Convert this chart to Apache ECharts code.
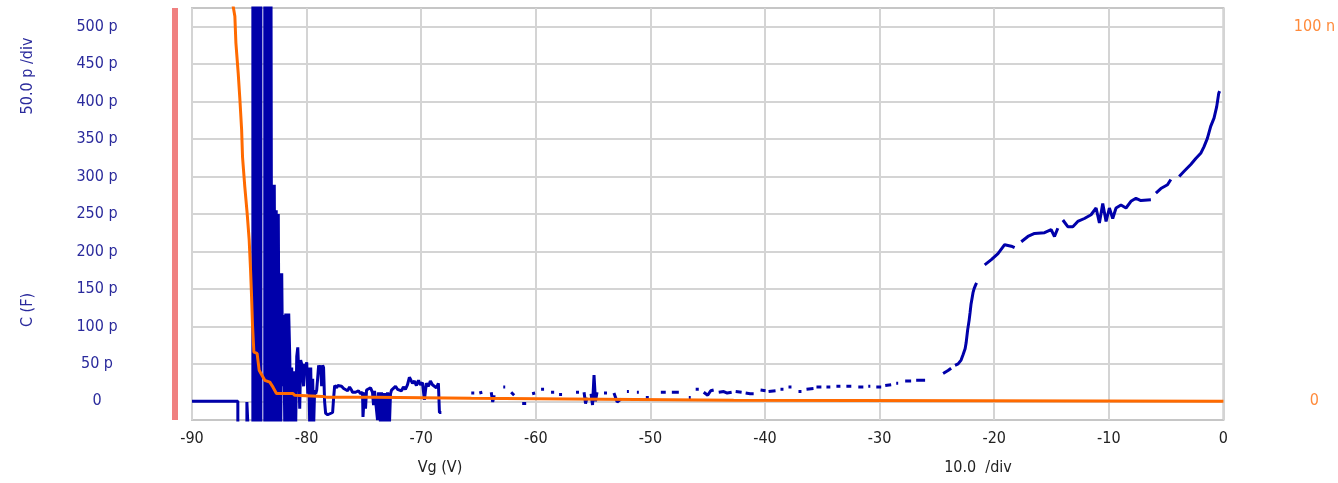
<!DOCTYPE html>
<html>
<head>
<meta charset="utf-8">
<script src="https://cdn.jsdelivr.net/npm/echarts@6/dist/echarts.min.js"></script>
<style>
html,body{margin:0;padding:0;background:#fff;}
#chart{width:1338px;height:483px;}
</style>
</head>
<body>
<div id="chart"></div>
<script>
// ---- Capacitance C (pF) vs Vg (V); null = gap in the trace ----
const capVg = [
-90,-86.0,-86.0,-85.21,-85.21,-85.10,-85.04,-84.69,
-84.69,-84.60,-84.52,-84.43,-84.34,-84.25,-84.17,-84.08,-83.99,-83.99,-83.65,
-83.65,-83.56,-83.47,-83.38,-83.30,-83.21,-83.12,-83.04,
-82.95,-82.90,-82.82,-82.73,-82.65,-82.56,-82.47,-82.38,-82.34,-82.25,-82.17,-82.08,-82.00,
-81.91,-81.82,-81.73,-81.65,-81.56,-81.47,-81.38,-81.30,-81.21,-81.12,-81.03,
-80.95,-80.86,-80.77,-80.69,-80.60,-80.52,-80.43,-80.34,-80.26,-80.17,-80.08,
-79.99,-79.90,-79.82,-79.73,-79.64,-79.56,-79.47,-79.38,-79.30,-79.21,-79.12,-79.04,
-78.95,-78.86,-78.78,-78.69,-78.60,-78.52,-78.43,-78.34,-78.16,-77.99,-77.73,-77.64,-77.55,
-77.38,-77.29,-77.12,-76.95,-76.77,-76.60,-76.42,-76.25,-76.08,-75.99,-75.73,-75.47,-75.30,-75.12,
-75.08,-74.95,-74.86,-74.77,-74.60,-74.42,-74.25,-74.16,-74.07,-73.90,-73.81,-73.72,-73.55,-73.46,
-73.29,-73.20,-73.03,-72.94,-72.77,-72.68,-72.59,-72.42,-72.24,-72.07,-71.90,-71.72,-71.55,-71.38,
-71.20,-71.03,-70.89,-70.76,-70.59,-70.42,-70.24,-70.07,-69.89,-69.72,-69.55,-69.37,-69.20,-69.02,
-68.85,-68.68,-68.50,-68.41,-68.24,-68.24,
-65.63,-65.37,-65.37,
-64.93,-64.67,-64.67,
-63.89,-63.76,-63.63,-63.63,
-62.84,-62.67,-62.67,
-62.15,-61.89,-61.89,
-61.19,-60.84,-60.84,
-60.32,-60.06,-60.06,
-59.54,-59.28,-59.28,
-58.67,-58.40,-58.40,
-57.97,-57.71,-57.71,
-56.49,-56.23,-56.23,
-55.79,-55.66,-55.53,-55.53,
-55.18,-55.05,-54.92,-54.79,-54.66,-54.66,
-54.05,-53.79,-53.79,
-53.18,-52.90,-52.57,-52.57,
-52.05,-51.88,-51.88,
-51.18,-51.01,-51.01,
-50.40,-50.14,-50.14,
-49.09,-48.66,-48.66,
-48.13,-47.52,-47.52,
-46.65,-46.48,-46.48,
-46.05,-45.78,-45.78,
-45.35,-45.00,-44.74,-44.48,-44.48,
-44.04,-43.60,-43.30,-42.91,-42.91,
-42.56,-42.04,-42.04,
-41.69,-41.30,-40.99,-40.99,
-40.39,-39.95,-39.95,
-39.69,-39.08,-39.08,
-38.65,-38.39,-38.39,
-37.95,-37.69,-37.69,
-37.08,-36.82,-36.82,
-36.38,-35.77,-35.77,
-35.51,-35.08,-35.08,
-34.64,-34.30,-34.30,
-33.77,-33.42,-33.42,
-32.90,-32.47,-32.47,
-31.86,-31.42,-31.42,
-30.99,-30.81,-30.81,
-30.29,-29.86,-29.86,
-29.51,-28.99,-28.99,
-28.55,-28.38,-28.38,
-27.77,-27.25,-27.25,
-26.81,-26.03,-26.03,
-24.46,-24.03,-23.76,-23.76,
-23.42,-23.15,-22.89,-22.72,-22.54,-22.45,-22.32,-22.19,-22.11,-22.02,-21.94,-21.85,-21.76,-21.63,-21.54,-21.54,
-20.83,-20.25,-19.67,-19.09,-18.51,-18.22,-18.22,
-17.64,-17.06,-16.48,-15.61,-15.03,-14.74,-14.45,-14.45,
-14.01,-13.58,-13.14,-12.71,-12.13,-11.55,-11.11,-10.82,-10.53,-10.24,-9.95,-9.66,-9.37,-8.94,-8.50,-8.07,-7.63,-7.20,-6.33,-6.33,
-5.89,-5.46,-4.88,-4.59,-4.59,
-3.86,-3.43,-2.85,-2.41,-1.98,-1.69,-1.40,-1.11,-0.82,-0.59,-0.41,-0.33
];
const capC = [
0,0,-60,-60,-1,-1,-60,-60,
700,-60,700,-60,700,-60,700,-60,700,-60,-60,
700,-60,700,-60,700,-60,700,-60,
289,-40,289,-40,255,-40,250,-30,171,-30,171,20,115,
-30,117,106,-30,117,60,-30,45,-30,40,5,
-30,60,72,40,-10,55,50,52,20,50,45,
52,10,45,-30,45,-30,30,-30,15,10,15,30,
48,40,48,20,48,45,0,-16,-18,-16,-15,5,21,
18,21,19,20,17,18,14,19,15,12,12,14,10,12,
-21,12,-10,15,13,18,12,-5,14,12,-25,12,-30,12,
-30,11,-30,12,-30,10,15,17,20,16,18,14,19,16,
22,32,28,24,27,21,28,22,25,2,24,20,27,22,
24,18,24,-15,-15,null,
11,11,null,
11,12,null,
12,-1,8,null,
19,19,null,
12,8,null,
-3,-3,null,
10,11,null,
16,16,null,
12,12,null,
9,9,null,
12,12,null,
12,-3,5,null,
10,-5,35,0,12,null,
11,11,null,
11,-1,3,null,
13,13,null,
12,12,null,
5,5,null,
12,12,null,
12,12,null,
5,5,null,
16,16,null,
12,8,14,15,null,
12,13,11,12,null,
13,12,null,
11,10,10,null,
15,14,null,
13,14,null,
16,16,null,
19,19,null,
13,13,null,
16,17,null,
19,19,null,
19,19,null,
20,20,null,
20,20,null,
19,19,null,
20,20,null,
19,19,null,
21,22,null,
24,24,null,
27,27,null,
28,28,null,
37,41,44,null,
48,50,55,62,70,78,95,108,118,130,137,145,150,155,158,null,
182,189,197,209,207,205,null,
213,220,224,225,229,220,231,null,
242,233,233,240,244,249,258,238,264,240,258,244,258,262,258,267,271,268,269,null,
278,284,289,296,null,
300,307,316,324,331,340,351,367,378,393,411,414
];

// ---- Current I (nA) vs Vg (V) ----
const curVg = [-86.55,-86.26,-86.17,-85.97,-85.82,-85.67,-85.59,-85.39,-85.19,-85.01,-84.89,-84.80,-84.72,-84.60,-84.32,-84.14,-83.65,-83.21,-82.92,-82.63,-81.21,-81.03,-78.60,-78.28,-74.07,-73.92,-65.63,-65.54,-42.74,-42.65,0];
const curI = [108,102.8,95.7,87.7,80.5,72.5,65.2,57.2,50.3,43.0,35.0,27.8,20.3,13.1,12.8,8.3,5.6,5.1,3.7,2.1,2.1,1.6,1.3,1.1,1.1,0.8,0.8,0.3,0.3,0,0];

// ---- axis ticks / labels ----
const xTicks = {min: -90, max: 0, step: 10};
const cLabelValues = [0,50,100,150,200,250,300,350,400,450,500];
const iLabelValues = [0,100];

const capData = capVg.map((v,i)=>[v, capC[i]===null ? '-' : capC[i]]);
const curData = curVg.map((v,i)=>[v, curI[i]]);

const FONT = "'DejaVu Sans Condensed','Liberation Sans Narrow','DejaVu Sans',sans-serif";
const BLUE_TXT = '#2a2a9c';
const ORANGE_TXT = '#ff8a3a';

const chart = echarts.init(document.getElementById('chart'), null, {renderer:'canvas'});
chart.setOption({
  animation:false,
  backgroundColor:'#ffffff',
  grid:{left:192,right:112,top:8,bottom:63,show:true,borderColor:'#c6c6c6',borderWidth:2,backgroundColor:'transparent'},
  xAxis:{
    type:'value',min:xTicks.min,max:xTicks.max,interval:xTicks.step,
    axisLine:{show:false},axisTick:{show:false},
    axisLabel:{color:'#222',fontSize:16,fontFamily:FONT,margin:11},
    splitLine:{show:true,lineStyle:{color:'#d4d4d4',width:2}}
  },
  yAxis:[{
    type:'value',min:-25,max:525,interval:25,position:'left',
    axisLine:{show:false},axisTick:{show:false},
    axisLabel:{color:BLUE_TXT,fontSize:16,fontFamily:FONT,align:'center',margin:95,
      formatter:v=>cLabelValues.includes(v)?(v===0?'0':v+' p'):''},
    splitLine:{show:true,lineStyle:{color:['rgba(0,0,0,0)','#d4d4d4'],width:2}}
  },{
    type:'value',min:-5,max:105,interval:5,position:'right',
    axisLine:{show:false},axisTick:{show:false},
    axisLabel:{color:ORANGE_TXT,fontSize:16,fontFamily:FONT,align:'center',margin:91,
      formatter:v=>iLabelValues.includes(v)?(v===0?'0':v+' n'):''},
    splitLine:{show:false}
  }],
  series:[{
    name:'C',type:'line',yAxisIndex:0,data:capData,showSymbol:false,symbol:'none',
    connectNulls:false,clip:true,lineStyle:{color:'#0000aa',width:3},z:2
  },{
    name:'I',type:'line',yAxisIndex:1,data:curData,showSymbol:false,symbol:'none',
    clip:true,lineStyle:{color:'#ff6a00',width:3},z:3
  }],
  graphic:[
    {type:'rect',shape:{x:172,y:8,width:6,height:412},style:{fill:'#f08080'}},
    {type:'text',x:28,y:76,rotation:Math.PI/2,style:{text:'50.0 p /div',fill:BLUE_TXT,font:'16px '+FONT,align:'center',verticalAlign:'middle'}},
    {type:'text',x:28,y:310,rotation:Math.PI/2,style:{text:'C (F)',fill:BLUE_TXT,font:'16px '+FONT,align:'center',verticalAlign:'middle'}},
    {type:'text',x:440,y:468,style:{text:'Vg (V)',fill:'#222',font:'16px '+FONT,align:'center',verticalAlign:'middle'}},
    {type:'text',x:978,y:468,style:{text:'10.0  /div',fill:'#222',font:'16px '+FONT,align:'center',verticalAlign:'middle'}}
  ]
});
</script>
</body>
</html>
